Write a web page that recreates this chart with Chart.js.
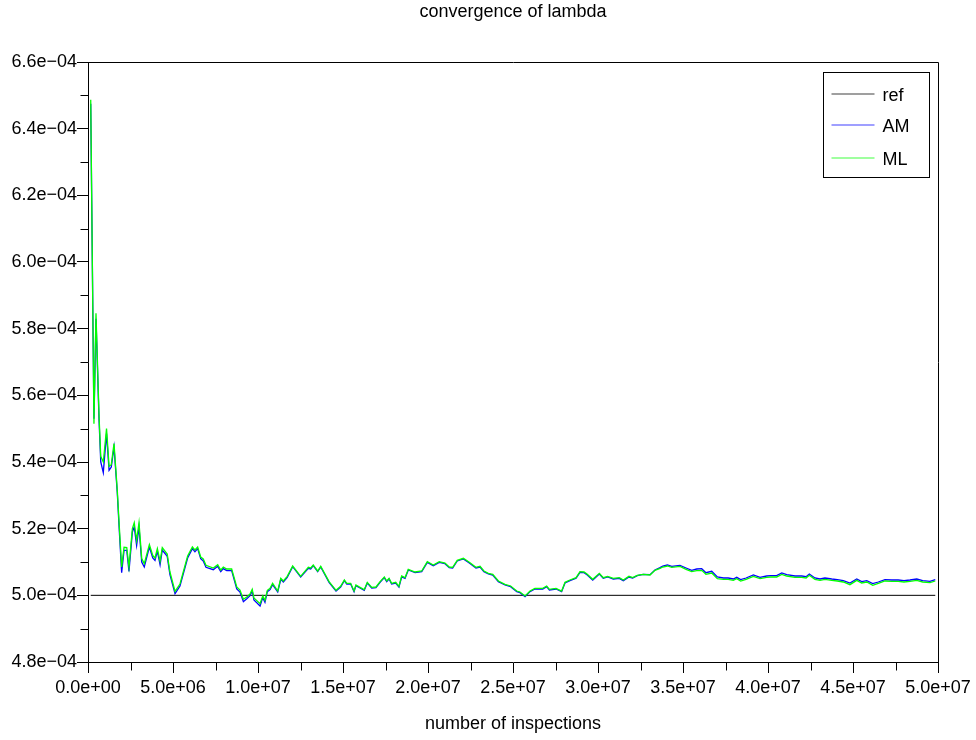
<!DOCTYPE html>
<html>
<head>
<meta charset="utf-8">
<script src="https://cdn.jsdelivr.net/npm/chart.js@4/dist/chart.umd.min.js"></script>
<style>
html,body{margin:0;padding:0;background:#fff;}
#wrap{width:976px;height:740px;}
</style>
</head>
<body>
<div id="wrap"><canvas id="c" width="976" height="740"></canvas></div>
<script>
// number of inspections (x)
const inspections = [
 0.16e6,0.35e6,0.47e6,0.65e6,0.75e6,0.90e6,1.09e6,1.24e6,1.37e6,1.53e6,
 1.72e6,1.84e6,1.98e6,2.12e6,2.28e6,2.41e6,2.61e6,2.72e6,2.86e6,3.00e6,
 3.16e6,3.31e6,3.61e6,3.81e6,3.94e6,4.08e6,4.24e6,4.37e6,4.66e6,4.82e6,
 5.12e6,5.41e6,5.86e6,6.14e6,6.29e6,6.45e6,6.63e6,6.78e6,6.94e6,7.37e6,
 7.63e6,7.81e6,7.96e6,8.16e6,8.45e6,8.75e6,8.94e6,9.14e6,9.34e6,9.53e6,
 9.66e6,9.76e6,10.12e6,10.28e6,10.41e6,10.55e6,10.71e6,10.86e6,11.16e6,11.34e6,
 11.49e6,11.72e6,12.04e6,12.51e6,12.96e6,13.10e6,13.25e6,13.51e6,13.69e6,14.18e6,
 14.59e6,14.86e6,15.08e6,15.22e6,15.45e6,15.65e6,15.76e6,16.00e6,16.25e6,16.43e6,
 16.69e6,16.94e6,17.18e6,17.43e6,17.57e6,17.71e6,17.86e6,18.10e6,18.29e6,18.45e6,
 18.65e6,18.84e6,19.24e6,19.63e6,19.96e6,20.31e6,20.66e6,21.00e6,21.25e6,21.45e6,
 21.72e6,22.08e6,22.43e6,22.82e6,23.06e6,23.29e6,23.55e6,23.81e6,24.14e6,24.53e6,
 24.86e6,25.22e6,25.41e6,25.71e6,26.00e6,26.29e6,26.75e6,26.98e6,27.14e6,27.53e6,
 27.86e6,28.06e6,28.35e6,28.71e6,28.94e6,29.18e6,29.37e6,29.69e6,30.08e6,30.31e6,
 30.57e6,30.90e6,31.25e6,31.49e6,31.82e6,32.04e6,32.31e6,32.66e6,33.06e6,33.35e6,
 33.65e6,33.81e6,34.08e6,34.34e6,34.82e6,35.18e6,35.51e6,35.81e6,36.10e6,36.35e6,
 36.69e6,37.02e6,37.38e6,37.66e6,37.96e6,38.16e6,38.39e6,38.71e6,39.14e6,39.53e6,
 39.92e6,40.16e6,40.51e6,40.81e6,41.10e6,41.59e6,41.98e6,42.24e6,42.43e6,42.76e6,
 43.06e6,43.35e6,43.75e6,44.08e6,44.43e6,44.82e6,45.22e6,45.51e6,45.81e6,46.16e6,
 46.49e6,46.88e6,47.28e6,47.66e6,48.00e6,48.35e6,48.75e6,49.10e6,49.53e6,49.84e6
];
// ML estimate of lambda
const mlValues = [
 6.487e-4,5.515e-4,5.846e-4,5.537e-4,5.417e-4,5.400e-4,5.500e-4,5.387e-4,5.392e-4,5.455e-4,
 5.317e-4,5.207e-4,5.085e-4,5.144e-4,5.143e-4,5.085e-4,5.200e-4,5.218e-4,5.165e-4,5.218e-4,
 5.110e-4,5.095e-4,5.152e-4,5.120e-4,5.112e-4,5.140e-4,5.102e-4,5.143e-4,5.124e-4,5.070e-4,
 5.012e-4,5.034e-4,5.118e-4,5.145e-4,5.136e-4,5.145e-4,5.115e-4,5.109e-4,5.090e-4,5.082e-4,
 5.092e-4,5.076e-4,5.085e-4,5.079e-4,5.079e-4,5.025e-4,5.016e-4,4.988e-4,4.995e-4,5.004e-4,
 5.018e-4,4.992e-4,4.975e-4,4.998e-4,4.985e-4,5.015e-4,5.021e-4,5.036e-4,5.013e-4,5.051e-4,
 5.043e-4,5.057e-4,5.088e-4,5.057e-4,5.084e-4,5.082e-4,5.091e-4,5.073e-4,5.087e-4,5.041e-4,
 5.015e-4,5.027e-4,5.046e-4,5.036e-4,5.036e-4,5.013e-4,5.031e-4,5.024e-4,5.017e-4,5.039e-4,
 5.024e-4,5.025e-4,5.041e-4,5.055e-4,5.043e-4,5.051e-4,5.036e-4,5.039e-4,5.027e-4,5.058e-4,
 5.053e-4,5.078e-4,5.070e-4,5.073e-4,5.101e-4,5.091e-4,5.101e-4,5.097e-4,5.085e-4,5.084e-4,
 5.105e-4,5.111e-4,5.099e-4,5.084e-4,5.087e-4,5.073e-4,5.066e-4,5.063e-4,5.043e-4,5.033e-4,
 5.028e-4,5.013e-4,5.010e-4,4.998e-4,5.013e-4,5.021e-4,5.021e-4,5.028e-4,5.018e-4,5.021e-4,
 5.013e-4,5.039e-4,5.046e-4,5.053e-4,5.071e-4,5.070e-4,5.063e-4,5.048e-4,5.066e-4,5.053e-4,
 5.057e-4,5.051e-4,5.053e-4,5.046e-4,5.057e-4,5.053e-4,5.060e-4,5.063e-4,5.061e-4,5.075e-4,
 5.081e-4,5.085e-4,5.088e-4,5.084e-4,5.087e-4,5.078e-4,5.071e-4,5.074e-4,5.075e-4,5.063e-4,
 5.067e-4,5.050e-4,5.048e-4,5.048e-4,5.045e-4,5.050e-4,5.043e-4,5.048e-4,5.057e-4,5.050e-4,
 5.054e-4,5.055e-4,5.055e-4,5.063e-4,5.058e-4,5.054e-4,5.054e-4,5.052e-4,5.060e-4,5.048e-4,
 5.045e-4,5.048e-4,5.045e-4,5.043e-4,5.040e-4,5.032e-4,5.045e-4,5.037e-4,5.040e-4,5.030e-4,
 5.036e-4,5.043e-4,5.042e-4,5.042e-4,5.040e-4,5.042e-4,5.045e-4,5.040e-4,5.038e-4,5.043e-4
];
// AM estimate of lambda
const amValues = [
 6.475e-4,5.530e-4,5.830e-4,5.525e-4,5.400e-4,5.368e-4,5.485e-4,5.375e-4,5.385e-4,5.445e-4,
 5.310e-4,5.195e-4,5.068e-4,5.135e-4,5.135e-4,5.072e-4,5.190e-4,5.205e-4,5.150e-4,5.205e-4,
 5.100e-4,5.085e-4,5.145e-4,5.112e-4,5.105e-4,5.133e-4,5.092e-4,5.136e-4,5.117e-4,5.062e-4,
 5.005e-4,5.028e-4,5.112e-4,5.140e-4,5.131e-4,5.140e-4,5.110e-4,5.103e-4,5.084e-4,5.077e-4,
 5.087e-4,5.071e-4,5.080e-4,5.074e-4,5.074e-4,5.019e-4,5.010e-4,4.981e-4,4.990e-4,4.999e-4,
 5.013e-4,4.986e-4,4.968e-4,4.993e-4,4.979e-4,5.011e-4,5.017e-4,5.032e-4,5.010e-4,5.048e-4,
 5.040e-4,5.054e-4,5.086e-4,5.055e-4,5.081e-4,5.079e-4,5.089e-4,5.071e-4,5.085e-4,5.039e-4,
 5.013e-4,5.025e-4,5.044e-4,5.034e-4,5.034e-4,5.011e-4,5.029e-4,5.022e-4,5.015e-4,5.037e-4,
 5.022e-4,5.023e-4,5.039e-4,5.053e-4,5.041e-4,5.049e-4,5.034e-4,5.037e-4,5.025e-4,5.055e-4,
 5.051e-4,5.076e-4,5.068e-4,5.071e-4,5.099e-4,5.089e-4,5.099e-4,5.095e-4,5.083e-4,5.082e-4,
 5.103e-4,5.109e-4,5.097e-4,5.082e-4,5.085e-4,5.071e-4,5.064e-4,5.061e-4,5.041e-4,5.031e-4,
 5.026e-4,5.011e-4,5.008e-4,4.996e-4,5.011e-4,5.019e-4,5.019e-4,5.026e-4,5.016e-4,5.019e-4,
 5.011e-4,5.037e-4,5.044e-4,5.051e-4,5.069e-4,5.068e-4,5.061e-4,5.046e-4,5.064e-4,5.051e-4,
 5.055e-4,5.049e-4,5.051e-4,5.044e-4,5.055e-4,5.052e-4,5.059e-4,5.063e-4,5.062e-4,5.076e-4,
 5.083e-4,5.088e-4,5.091e-4,5.087e-4,5.090e-4,5.082e-4,5.075e-4,5.079e-4,5.080e-4,5.068e-4,
 5.072e-4,5.055e-4,5.052e-4,5.052e-4,5.049e-4,5.054e-4,5.047e-4,5.052e-4,5.061e-4,5.054e-4,
 5.058e-4,5.059e-4,5.059e-4,5.067e-4,5.062e-4,5.058e-4,5.058e-4,5.056e-4,5.064e-4,5.052e-4,
 5.049e-4,5.052e-4,5.049e-4,5.047e-4,5.044e-4,5.037e-4,5.049e-4,5.041e-4,5.044e-4,5.035e-4,
 5.040e-4,5.047e-4,5.046e-4,5.046e-4,5.044e-4,5.046e-4,5.049e-4,5.044e-4,5.042e-4,5.047e-4
];
// reference value
const refValue = 5.0e-4;
const refRange = [0.16e6, 49.84e6];

const seriesNames = ['ref', 'AM', 'ML'];
const seriesColors = ['#000000', '#0000ff', '#00ff00'];
const chartTitle = 'convergence of lambda';
const xTitle = 'number of inspections';
const xMin = 0, xMax = 5e7, xMinorStep = 2.5e6;
const yMin = 4.8e-4, yMax = 6.6e-4, yMinorStep = 1e-5;

const FONT = 'Liberation Sans, Arial, Helvetica, sans-serif';
const FS = 18;
const MAJOR_LEN = 11, MINOR_LEN = 8;

function fmtExp(v) {
  const s = v.toExponential(1);
  const parts = s.split('e');
  const sign = parts[1][0] === '-' ? '\u2212' : '+';
  const d = parts[1].replace(/^[+-]/, '').padStart(2, '0');
  return parts[0] + 'e' + sign + d;
}
const isMajor = (v, step) => Math.round(v / step) % 2 === 0;

const toPts = (ys) => inspections.map((x, i) => ({x: x, y: ys[i]}));

// frame (top/right) and minor ticks
const framePlugin = {
  id: 'frame',
  afterDraw(chart) {
    const {ctx, chartArea: a} = chart;
    ctx.save();
    ctx.strokeStyle = '#000';
    ctx.lineWidth = 1;
    ctx.beginPath();
    const L = Math.round(a.left) + 0.5, T = Math.round(a.top) + 0.5;
    const R = Math.round(a.right) + 0.5, B = Math.round(a.bottom) + 0.5;
    ctx.moveTo(L, T); ctx.lineTo(R, T); ctx.lineTo(R, B);
    // minor ticks
    const xs = chart.scales.x, ys = chart.scales.y;
    xs.ticks.forEach(t => {
      if (!isMajor(t.value, xMinorStep)) {
        const px = Math.round(xs.getPixelForValue(t.value)) + 0.5;
        ctx.moveTo(px, B); ctx.lineTo(px, B + MINOR_LEN);
      }
    });
    ys.ticks.forEach(t => {
      if (!isMajor(t.value, yMinorStep)) {
        const py = Math.round(ys.getPixelForValue(t.value)) + 0.5;
        ctx.moveTo(L, py); ctx.lineTo(L - MINOR_LEN, py);
      }
    });
    ctx.stroke();
    ctx.restore();
  }
};

const boxLegendPlugin = {
  id: 'boxLegend',
  afterDatasetsDraw(chart) {
    const {ctx, chartArea: a} = chart;
    const w = 106, h = 105;
    const left = Math.round(a.right - 9 - w) + 0.5;
    const top = Math.round(a.top + 10) + 0.5;
    ctx.save();
    ctx.fillStyle = '#fff';
    ctx.fillRect(left, top, w, h);
    ctx.strokeStyle = '#000';
    ctx.lineWidth = 1;
    ctx.strokeRect(left, top, w, h);
    const rows = [21, 52, 85];
    chart.data.datasets.forEach((ds, i) => {
      const y = Math.round(top + rows[i]);
      ctx.strokeStyle = ds.borderColor;
      ctx.globalAlpha = 0.75;
      ctx.lineWidth = 1.2;
      ctx.beginPath();
      ctx.moveTo(left + 8, y);
      ctx.lineTo(left + 51, y);
      ctx.stroke();
      ctx.globalAlpha = 1;
      ctx.fillStyle = '#000';
      ctx.font = FS + 'px ' + FONT;
      ctx.textBaseline = 'middle';
      ctx.textAlign = 'left';
      ctx.fillText(ds.label, left + 59, y + 2);
    });
    ctx.restore();
  }
};

const tickCol = (step) => (c) => (c.tick && isMajor(c.tick.value, step)) ? '#000' : 'rgba(0,0,0,0)';

new Chart(document.getElementById('c'), {
  type: 'line',
  data: {
    datasets: [
      {label: seriesNames[0], data: refRange.map(x => ({x: x, y: refValue})), borderColor: seriesColors[0], borderWidth: 1, pointRadius: 0, order: 2},
      {label: seriesNames[1], data: toPts(amValues), borderColor: seriesColors[1], borderWidth: 1.3, pointRadius: 0, order: 1},
      {label: seriesNames[2], data: toPts(mlValues), borderColor: seriesColors[2], borderWidth: 1.3, pointRadius: 0, order: 0}
    ]
  },
  options: {
    responsive: false,
    animation: false,
    events: [],
    layout: {padding: {left: 0, right: 38, top: 0, bottom: 0}},
    plugins: {
      legend: {display: false},
      tooltip: {enabled: false},
      title: {
        display: true, text: chartTitle, fullSize: false, color: '#000',
        font: {family: FONT, size: FS, weight: 'normal'},
        padding: {top: 1, bottom: 39.4}
      }
    },
    scales: {
      x: {
        type: 'linear', position: 'bottom', min: xMin, max: xMax,
        afterFit(s) { s.height = 78; },
        ticks: {
          stepSize: xMinorStep, autoSkip: false, maxRotation: 0, padding: 4, color: '#000',
          font: {family: FONT, size: FS},
          callback: (v) => (isMajor(v, xMinorStep) ? fmtExp(v) : '')
        },
        grid: {display: true, drawOnChartArea: false, drawTicks: true, tickLength: MAJOR_LEN, color: '#000', tickColor: tickCol(xMinorStep)},
        border: {display: true, color: '#000', width: 1},
        title: {display: true, text: xTitle, color: '#000', font: {family: FONT, size: FS}, padding: {top: 0, bottom: 5}}
      },
      y: {
        type: 'linear', position: 'left', min: yMin, max: yMax,
        afterFit(s) { s.width = 88; },
        ticks: {
          stepSize: yMinorStep, autoSkip: false, padding: 0, color: '#000',
          font: {family: FONT, size: FS},
          callback: (v) => (isMajor(v, yMinorStep) ? fmtExp(v) : '')
        },
        grid: {display: true, drawOnChartArea: false, drawTicks: true, tickLength: MAJOR_LEN, color: '#000', tickColor: tickCol(yMinorStep)},
        border: {display: true, color: '#000', width: 1}
      }
    }
  },
  plugins: [framePlugin, boxLegendPlugin]
});
</script>
</body>
</html>
